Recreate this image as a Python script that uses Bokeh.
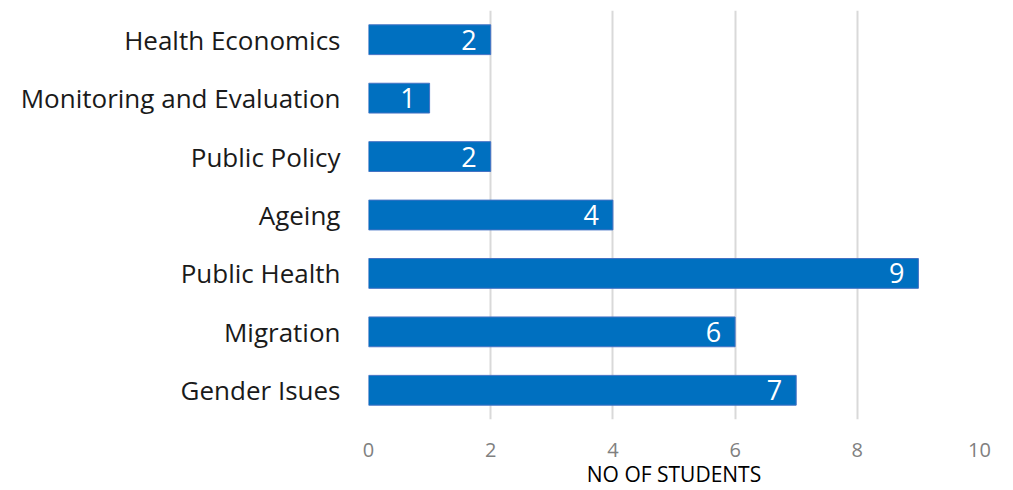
from bokeh.plotting import figure
from bokeh.models import ColumnDataSource, FactorRange, Range1d, FixedTicker, LabelSet
from bokeh.core.properties import value
from bokeh.embed import file_html
from bokeh.resources import INLINE

categories = ["Health Economics", "Monitoring and Evaluation", "Public Policy",
              "Ageing", "Public Health", "Migration", "Gender Isues"]
students = [2, 1, 2, 4, 9, 6, 7]
x_ticks = [0, 2, 4, 6, 8, 10]
x_title = "NO OF STUDENTS"

FONT = "Open Sans"

src = ColumnDataSource(dict(cat=categories, n=students,
                            lbl=[str(v) for v in students]))

p = figure(width=997, height=490, output_backend="svg", toolbar_location=None,
           y_range=FactorRange(factors=categories[::-1], range_padding=0),
           x_range=Range1d(0, 10))
p.min_border_left = 368
p.min_border_right = 18
p.min_border_top = 10
p.min_border_bottom = 40
p.outline_line_color = None
p.background_fill_color = "white"
p.border_fill_color = "white"

p.hbar(y="cat", right="n", left=0, height=0.51, source=src,
       fill_color="#0070C0", line_color="#4472C4", line_width=1)

labels = LabelSet(x="n", y="cat", text="lbl", source=src, x_offset=-14,
                  text_align="right", text_baseline="middle",
                  text_color="white", text_font=value(FONT), text_font_size="27px")
p.add_layout(labels)

p.xaxis.ticker = FixedTicker(ticks=x_ticks)
p.xaxis.axis_line_color = None
p.xaxis.major_tick_line_color = None
p.xaxis.minor_tick_line_color = None
p.xaxis.major_label_text_color = "#808080"
p.xaxis.major_label_text_font = FONT
p.xaxis.major_label_text_font_size = "20px"
p.xaxis.major_label_standoff = 17
p.xaxis.axis_label = x_title
p.xaxis.axis_label_text_font = FONT
p.xaxis.axis_label_text_font_style = "normal"
p.xaxis.axis_label_text_font_size = "21px"
p.xaxis.axis_label_text_color = "#000000"
p.xaxis.axis_label_standoff = 0

p.yaxis.axis_line_color = None
p.yaxis.major_tick_line_color = None
p.yaxis.minor_tick_line_color = None
p.yaxis.major_label_text_color = "#1a1a1a"
p.yaxis.major_label_text_font = FONT
p.yaxis.major_label_text_font_size = "26px"
p.yaxis.major_label_standoff = 22

p.xgrid.grid_line_color = "#d9d9d9"
p.xgrid.grid_line_width = 2
p.ygrid.grid_line_color = None

open("out.html", "w").write(file_html(p, INLINE))
